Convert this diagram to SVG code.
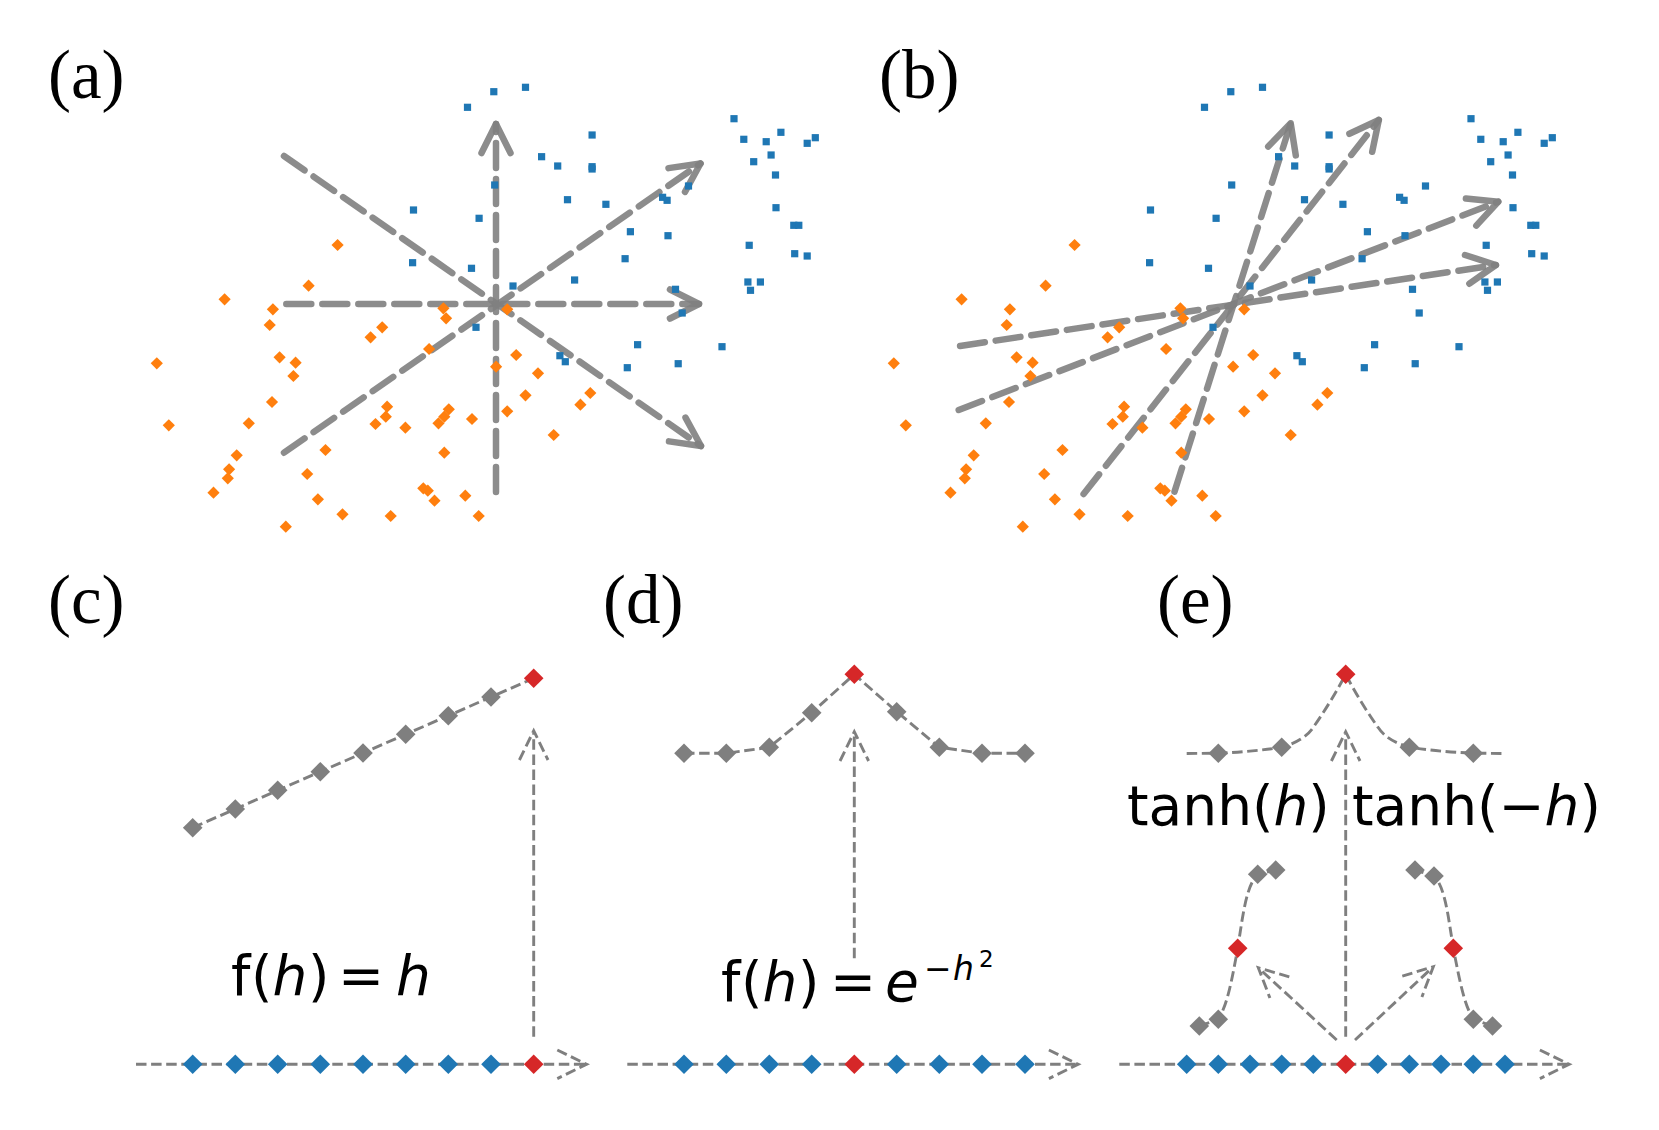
<svg xmlns="http://www.w3.org/2000/svg" xmlns:xlink="http://www.w3.org/1999/xlink" width="1659" height="1130" viewBox="0 0 1659 1130">
<style>
.lbl{font-family:"Liberation Serif","Times New Roman",serif;font-size:69px;fill:#000}
.eq{font-family:"DejaVu Sans","Noto Sans",sans-serif;font-size:55px;fill:#000}
.it{font-style:italic}
.ta{fill:none;stroke:#808080;stroke-opacity:0.9;stroke-width:6.5;stroke-linecap:round;stroke-dasharray:25 11}
.th{fill:none;stroke:#808080;stroke-opacity:0.9;stroke-width:6.5;stroke-linecap:round;stroke-linejoin:round}
.tn{fill:none;stroke:#7f7f7f;stroke-width:2.9;stroke-dasharray:10.5 4.6}
.b{fill:#1f77b4}
.o{fill:#ff7f0e}
.r{fill:#d62728}
.g{fill:#7f7f7f}
</style>
<defs>
<rect id="sq" x="-3.6" y="-3.6" width="7.2" height="7.2"/>
<path id="od" d="M0,-6.1L6.1,0L0,6.1L-6.1,0Z"/>
<path id="dm" d="M0,-9.8L9.8,0L0,9.8L-9.8,0Z"/>
<g id="pts">
<g class="b">
<use href="#sq" x="493.8" y="91.7"/><use href="#sq" x="525.5" y="87.3"/><use href="#sq" x="467.5" y="107.3"/><use href="#sq" x="734" y="118.7"/>
<use href="#sq" x="592.1" y="135"/><use href="#sq" x="743.8" y="139.3"/><use href="#sq" x="766.2" y="141.7"/><use href="#sq" x="780.9" y="132.3"/>
<use href="#sq" x="815.3" y="137.7"/><use href="#sq" x="807.2" y="143.3"/><use href="#sq" x="541.6" y="156.7"/><use href="#sq" x="557.7" y="166"/>
<use href="#sq" x="592.1" y="166.7"/><use href="#sq" x="592.1" y="169"/><use href="#sq" x="771.1" y="155"/><use href="#sq" x="753.7" y="161.7"/>
<use href="#sq" x="775.5" y="175"/><use href="#sq" x="494.7" y="185"/><use href="#sq" x="688.5" y="186"/><use href="#sq" x="567.5" y="199.7"/>
<use href="#sq" x="605.9" y="204.3"/><use href="#sq" x="662.6" y="197.3"/><use href="#sq" x="667.1" y="200.3"/><use href="#sq" x="776" y="207.7"/>
<use href="#sq" x="413.5" y="210"/><use href="#sq" x="479.1" y="218.3"/><use href="#sq" x="630.4" y="231.7"/><use href="#sq" x="668" y="235.7"/>
<use href="#sq" x="793.8" y="225.3"/><use href="#sq" x="798.8" y="225.3"/><use href="#sq" x="749.2" y="245.3"/><use href="#sq" x="794.7" y="253.7"/>
<use href="#sq" x="807.2" y="256"/><use href="#sq" x="625.1" y="258.7"/><use href="#sq" x="412.6" y="262.7"/><use href="#sq" x="471.5" y="268.3"/>
<use href="#sq" x="574.6" y="280"/><use href="#sq" x="513" y="286"/><use href="#sq" x="747.9" y="282"/><use href="#sq" x="760.4" y="282"/>
<use href="#sq" x="750.5" y="290.3"/><use href="#sq" x="675.5" y="289.3"/><use href="#sq" x="682.2" y="313"/><use href="#sq" x="476" y="327.3"/>
<use href="#sq" x="637.6" y="344.7"/><use href="#sq" x="722" y="346.7"/><use href="#sq" x="559.9" y="355.7"/><use href="#sq" x="565.3" y="361.7"/>
<use href="#sq" x="627.3" y="367.7"/><use href="#sq" x="678.2" y="363.7"/>
</g>
<g class="o">
<use href="#od" x="337.6" y="245"/><use href="#od" x="308.6" y="285.7"/><use href="#od" x="224.6" y="299.3"/><use href="#od" x="272.9" y="309.3"/>
<use href="#od" x="269.7" y="325"/><use href="#od" x="443.4" y="308.3"/><use href="#od" x="446.1" y="318.3"/><use href="#od" x="507.2" y="309.3"/>
<use href="#od" x="382.2" y="327.3"/><use href="#od" x="370.6" y="337.3"/><use href="#od" x="429.1" y="349"/><use href="#od" x="156.8" y="363.3"/>
<use href="#od" x="279.6" y="357.3"/><use href="#od" x="295.6" y="362.7"/><use href="#od" x="293.4" y="376"/><use href="#od" x="516.2" y="355"/>
<use href="#od" x="496.1" y="366.7"/><use href="#od" x="538" y="373.3"/><use href="#od" x="272" y="402"/><use href="#od" x="525.5" y="395.3"/>
<use href="#od" x="590.3" y="393"/><use href="#od" x="580.4" y="404.7"/><use href="#od" x="168.8" y="425.3"/><use href="#od" x="248.8" y="423.3"/>
<use href="#od" x="387.1" y="406.7"/><use href="#od" x="385.8" y="416.7"/><use href="#od" x="375.5" y="424"/><use href="#od" x="405.4" y="427.7"/>
<use href="#od" x="448.8" y="409.3"/><use href="#od" x="444.3" y="416.7"/><use href="#od" x="438.5" y="423.3"/><use href="#od" x="472" y="419"/>
<use href="#od" x="507.2" y="411.3"/><use href="#od" x="553.7" y="435"/><use href="#od" x="236.7" y="455.3"/><use href="#od" x="325.5" y="450"/>
<use href="#od" x="444.3" y="452.7"/><use href="#od" x="229.1" y="469.3"/><use href="#od" x="227.8" y="478.3"/><use href="#od" x="307.2" y="474"/>
<use href="#od" x="213.5" y="492.7"/><use href="#od" x="423.3" y="488.3"/><use href="#od" x="427.8" y="490.7"/><use href="#od" x="434.5" y="500.7"/>
<use href="#od" x="465.3" y="495.7"/><use href="#od" x="317.9" y="499.3"/><use href="#od" x="342.5" y="514.3"/><use href="#od" x="390.7" y="516"/>
<use href="#od" x="478.7" y="516"/><use href="#od" x="285.8" y="526.7"/>
</g>
</g>
</defs>

<g id="labels">
<text class="lbl" x="48" y="98">(a)</text>
<text class="lbl" x="879" y="98">(b)</text>
<text class="lbl" x="48" y="623">(c)</text>
<text class="lbl" x="603" y="623">(d)</text>
<text class="lbl" x="1157" y="623">(e)</text>
</g>

<g id="panel-a">
<g id="connectors-a">
<path class="ta" d="M496,492L496,124"/><polyline class="th" points="481.5,153 496,124 510.5,153"/>
<path class="ta" d="M286.3,304L699,304"/><polyline class="th" points="670,289.5 699,304 670,318.5"/>
<path class="ta" d="M284,452.7L700.5,163.5"/><polyline class="th" points="685,191.9 700.5,163.5 668.5,168.1"/>
<path class="ta" d="M284,156L701,446"/><polyline class="th" points="669,441.4 701,446 685.5,417.6"/>
</g>
<use href="#pts"/>
</g>

<g id="panel-b">
<g id="connectors-b">
<path class="ta" d="M1174.5,491.7L1290.7,123.3"/><polyline class="th" points="1295.8,155.4 1290.7,123.3 1268.2,146.6"/>
<path class="ta" d="M1083.6,494L1378.8,120"/><polyline class="th" points="1372.2,151.8 1378.8,120 1349.4,133.8"/>
<path class="ta" d="M958.7,410L1498.2,201.7"/><polyline class="th" points="1476.3,225.6 1498.2,201.7 1465.9,198.6"/>
<path class="ta" d="M960.1,346L1495.9,265"/><polyline class="th" points="1469.4,283.7 1495.9,265 1465,255"/>
</g>
<use href="#pts" transform="translate(737,0)"/>
</g>

<g id="panel-c">
<g id="connectors-c">
<path class="tn" d="M136,1064.3L586.7,1064.3M557.3,1050L586.7,1064.3L557.3,1078.6"/>
<path class="tn" d="M533.7,1036.7L533.7,730.7M519.4,760L533.7,730.7L548,760"/>
<polyline class="tn" points="192.7,827.7 235.3,809 277.7,790.3 320.3,771.7 363,753 405.7,734.3 448.3,715.7 491,697 533.7,678.3"/>
</g>
<g class="b">
<use href="#dm" x="192.7" y="1064.3"/><use href="#dm" x="235.3" y="1064.3"/><use href="#dm" x="277.7" y="1064.3"/><use href="#dm" x="320.3" y="1064.3"/>
<use href="#dm" x="363" y="1064.3"/><use href="#dm" x="405.7" y="1064.3"/><use href="#dm" x="448.3" y="1064.3"/><use href="#dm" x="491" y="1064.3"/>
</g>
<use class="r" href="#dm" x="533.7" y="1064.3"/>
<g class="g">
<use href="#dm" x="192.7" y="827.7"/><use href="#dm" x="235.3" y="809"/><use href="#dm" x="277.7" y="790.3"/><use href="#dm" x="320.3" y="771.7"/>
<use href="#dm" x="363" y="753"/><use href="#dm" x="405.7" y="734.3"/><use href="#dm" x="448.3" y="715.7"/><use href="#dm" x="491" y="697"/>
</g>
<use class="r" href="#dm" x="533.7" y="678.3"/>
<text class="eq" y="995"><tspan x="231">f</tspan><tspan x="251">(</tspan><tspan x="272.5" class="it">h</tspan><tspan x="308">)</tspan><tspan x="338">=</tspan><tspan x="396" class="it">h</tspan></text>
</g>

<g id="panel-d">
<g id="connectors-d">
<path class="tn" d="M627.3,1064.3L1078.3,1064.3M1048.9,1050L1078.3,1064.3L1048.9,1078.6"/>
<path class="tn" d="M854.3,958.3L854.3,731.7M840,761L854.3,731.7L868.6,761"/>
<polyline class="tn" points="684,753.3 726.3,753.3 769.3,747.3 811.7,712.7 854.3,674.3 896.7,711.7 939.3,747.3 982,753.3 1025,753.3"/>
</g>
<g class="b">
<use href="#dm" x="684" y="1064.3"/><use href="#dm" x="726.3" y="1064.3"/><use href="#dm" x="769.3" y="1064.3"/><use href="#dm" x="811.7" y="1064.3"/>
<use href="#dm" x="896.7" y="1064.3"/><use href="#dm" x="939.3" y="1064.3"/><use href="#dm" x="982" y="1064.3"/><use href="#dm" x="1025" y="1064.3"/>
</g>
<use class="r" href="#dm" x="854.3" y="1064.3"/>
<g class="g">
<use href="#dm" x="684" y="753.3"/><use href="#dm" x="726.3" y="753.3"/><use href="#dm" x="769.3" y="747.3"/><use href="#dm" x="811.7" y="712.7"/>
<use href="#dm" x="896.7" y="711.7"/><use href="#dm" x="939.3" y="747.3"/><use href="#dm" x="982" y="753.3"/><use href="#dm" x="1025" y="753.3"/>
</g>
<use class="r" href="#dm" x="854.3" y="674.3"/>
<text class="eq" y="1001"><tspan x="721">f</tspan><tspan x="741">(</tspan><tspan x="762.5" class="it">h</tspan><tspan x="798">)</tspan><tspan x="830">=</tspan><tspan x="885" class="it">e</tspan><tspan x="924" y="980" style="font-size:33px">−</tspan><tspan x="953" y="980" class="it" style="font-size:33px">h</tspan><tspan x="979" y="967" style="font-size:23px">2</tspan></text>
</g>

<g id="panel-e">
<g id="connectors-e">
<path class="tn" d="M1119.3,1064.3L1569.3,1064.3M1539.9,1050L1569.3,1064.3L1539.9,1078.6"/>
<path class="tn" d="M1345.7,1036.7L1345.7,731.7M1331.4,761L1345.7,731.7L1360,761"/>
<path class="tn" d="M1336.7,1040L1258.3,967.7M1289.3,976.9L1258.3,967.7L1269.9,997.9"/>
<path class="tn" d="M1355,1040L1433.3,966.7M1402.3,976.1L1433.3,966.7L1421.9,996.9"/>
<path class="tn" d="M1186.7,753.5L1218.3,753.2Q1255,751.5 1281.7,747.3Q1304,741 1313.3,727.3Q1331,702 1345.7,674.3Q1360,702 1378,727.3Q1387,741 1409.7,747.3Q1436,751.5 1473.3,753.2L1505,753.5"/>
<path class="tn" d="M1199.3,1026L1218.3,1019.3C1227,1005 1231,985 1237.7,948.3C1243,915 1246,886 1257.7,874.3L1275.7,870"/>
<path class="tn" d="M1492.5,1026L1473.3,1019.3C1464.5,1005 1460.5,985 1453.3,948.3C1448,915 1445,887 1434,876L1415,870"/>
</g>
<g class="b">
<use href="#dm" x="1186.7" y="1064.3"/><use href="#dm" x="1218.3" y="1064.3"/><use href="#dm" x="1250" y="1064.3"/><use href="#dm" x="1281.7" y="1064.3"/>
<use href="#dm" x="1313.3" y="1064.3"/><use href="#dm" x="1377.7" y="1064.3"/><use href="#dm" x="1409.3" y="1064.3"/><use href="#dm" x="1441" y="1064.3"/>
<use href="#dm" x="1473.3" y="1064.3"/><use href="#dm" x="1505" y="1064.3"/>
</g>
<use class="r" href="#dm" x="1345.7" y="1064.3"/>
<g class="g">
<use href="#dm" x="1218.3" y="753.3"/><use href="#dm" x="1281.7" y="747.3"/><use href="#dm" x="1409.3" y="747.3"/><use href="#dm" x="1473.3" y="753.3"/>
<use href="#dm" x="1199.3" y="1026"/><use href="#dm" x="1218.3" y="1019.3"/><use href="#dm" x="1257.7" y="874.3"/><use href="#dm" x="1275.7" y="870"/>
<use href="#dm" x="1415" y="870"/><use href="#dm" x="1434" y="876"/><use href="#dm" x="1473.3" y="1019.3"/><use href="#dm" x="1492.5" y="1026"/>
</g>
<g class="r">
<use href="#dm" x="1345.7" y="674.3"/><use href="#dm" x="1237.7" y="948.3"/><use href="#dm" x="1453.3" y="948.3"/>
</g>
<text class="eq" x="1127" y="825">tanh(<tspan class="it">h</tspan>)</text>
<text class="eq" x="1352" y="825">tanh(−<tspan class="it">h</tspan>)</text>
</g>
</svg>
